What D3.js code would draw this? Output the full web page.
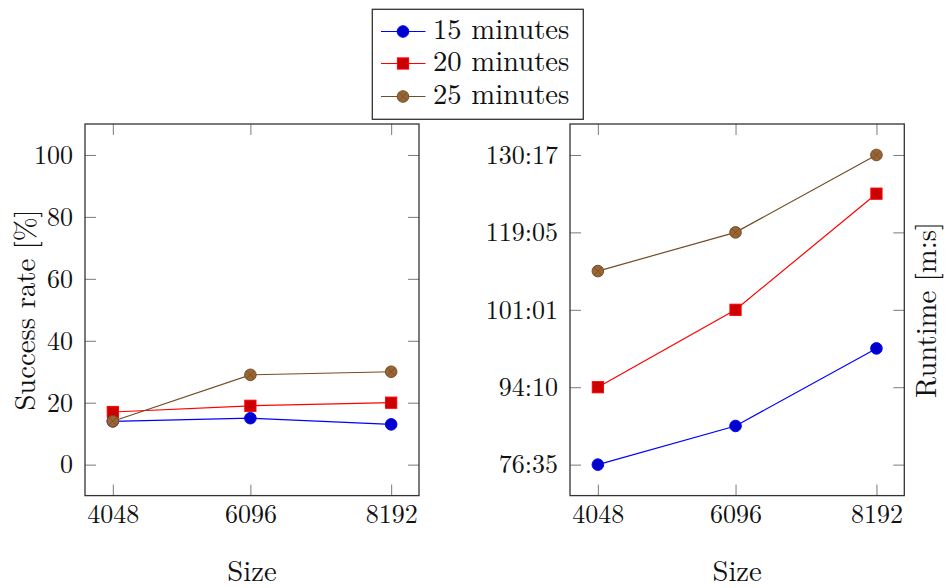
<!DOCTYPE html>
<html>
<head>
<meta charset="utf-8">
<script src="https://cdn.jsdelivr.net/npm/d3@7"></script>
<style>
  html, body { margin: 0; padding: 0; background: #fff; }
  svg { display: block; }
</style>
</head>
<body>
<svg id="chart" width="946" height="588"></svg>
<script>
// Problem sizes on the x axis
const sizes = [4048, 6096, 8192];

// Series names, one per time limit
const seriesNames = ["15 minutes", "20 minutes", "25 minutes"];

// Success rate [%] per size
const success15 = [14, 15, 13];
const success20 = [17, 19, 20];
const success25 = [14, 29, 30];

// Runtime per size, as "m:s"
const runtime15 = ["76:35", "85:22", "97:36"];
const runtime20 = ["94:10", "101:01", "124:41"];
const runtime25 = ["110:03", "119:05", "130:17"];

// Tick labels of the runtime axis
const runtimeTicks = ["76:35", "94:10", "101:01", "119:05", "130:17"];
const successTicks = [0, 20, 40, 60, 80, 100];

const toSec = s => { const [m, sec] = s.split(":").map(Number); return m * 60 + sec; };
const fmtMS = v => { const m = Math.floor(v / 60), s = Math.round(v - m * 60); return m + ":" + String(s).padStart(2, "0"); };

const FONT = '"Latin Modern Roman", "Liberation Serif", serif';

const styles = [
  { line: "#0000ff", fill: "#0000cc", mark: "circle" },
  { line: "#ff0000", fill: "#cc0000", mark: "square" },
  { line: "#734d26", fill: "#996633", mark: "otimes" }
];

const svg = d3.select("#chart");
const plotTop = 124, plotBottom = 495.6;
const tickLen = 11;
const tickFont = 26, labelFont = 28.7;

function label(sel, size) {
  return sel.style("font-family", FONT).style("font-size", size + "px").attr("fill", "#111");
}

function drawMarker(g, x, y, st) {
  if (st.mark === "square") {
    g.append("rect").attr("x", x - 5.6).attr("y", y - 5.6).attr("width", 11.2).attr("height", 11.2)
      .attr("fill", st.fill).attr("stroke", st.line).attr("stroke-width", 1);
  } else {
    g.append("circle").attr("cx", x).attr("cy", y).attr("r", 5.8)
      .attr("fill", st.fill).attr("stroke", st.line).attr("stroke-width", 1);
    if (st.mark === "otimes") {
      const d = 5.8 * Math.SQRT1_2;
      g.append("path").attr("d", `M${x - d},${y - d}L${x + d},${y + d}M${x - d},${y + d}L${x + d},${y - d}`)
        .attr("stroke", st.line).attr("stroke-width", 0.8);
    }
  }
}

function panel(opts) {
  const { left, right, y, yTicks, yFormat, series } = opts;
  const pad = (sizes[2] - sizes[0]) * 0.1;
  const x = d3.scaleLinear().domain([sizes[0] - pad, sizes[2] + pad]).range([left, right]);
  const g = svg.append("g");

  const styleAxis = (ax, labels) => {
    ax.select(".domain").remove();
    ax.selectAll(".tick line").attr("stroke", "#7a7a7a").attr("stroke-width", 1);
    if (labels) label(ax.selectAll(".tick text"), tickFont);
    else ax.selectAll(".tick text").remove();
  };

  // y ticks on both sides, pointing inward
  styleAxis(g.append("g").attr("transform", `translate(${left},0)`)
    .call(d3.axisLeft(y).tickValues(yTicks).tickFormat(yFormat).tickSize(-tickLen).tickPadding(12)), true);
  styleAxis(g.append("g").attr("transform", `translate(${right},0)`)
    .call(d3.axisRight(y).tickValues(yTicks).tickSize(-tickLen)), false);
  // x ticks on top and bottom
  styleAxis(g.append("g").attr("transform", `translate(0,${plotBottom})`)
    .call(d3.axisBottom(x).tickValues(sizes).tickFormat(d3.format("d")).tickSize(-tickLen).tickPadding(9)), true);
  styleAxis(g.append("g").attr("transform", `translate(0,${plotTop})`)
    .call(d3.axisTop(x).tickValues(sizes).tickSize(-tickLen)), false);

  const line = d3.line().x((d, i) => x(sizes[i])).y(d => y(d));
  series.forEach((vals, k) => {
    g.append("path").datum(vals).attr("d", line).attr("fill", "none")
      .attr("stroke", styles[k].line).attr("stroke-width", 1.2);
  });
  series.forEach((vals, k) => {
    vals.forEach((v, i) => drawMarker(g, x(sizes[i]), y(v), styles[k]));
  });

  g.append("rect").attr("x", left).attr("y", plotTop).attr("width", right - left).attr("height", plotBottom - plotTop)
    .attr("fill", "none").attr("stroke", "#333").attr("stroke-width", 1.3);

  label(g.append("text").attr("x", (left + right) / 2).attr("y", 581).attr("text-anchor", "middle"), labelFont)
    .text("Size");
  return g;
}

// Success rate panel
const ySuccess = d3.scaleLinear().domain([-10, 110]).range([plotBottom, plotTop]);
panel({
  left: 85, right: 419, y: ySuccess, yTicks: successTicks, yFormat: d3.format("d"),
  series: [success15, success20, success25]
});
label(svg.append("text").attr("transform", "translate(35,310) rotate(-90)").attr("text-anchor", "middle"), labelFont)
  .text("Success rate [%]");

// Runtime panel: tick labels evenly spaced, piecewise linear between them
const tickSecs = runtimeTicks.map(toSec);
const yIdx = d3.scaleLinear().domain([-0.4, tickSecs.length - 1 + 0.4]).range([plotBottom, plotTop]);
const yRuntime = d3.scaleLinear().domain(tickSecs).range(tickSecs.map((_, i) => yIdx(i)));
panel({
  left: 570, right: 904.3, y: yRuntime, yTicks: tickSecs, yFormat: fmtMS,
  series: [runtime15.map(toSec), runtime20.map(toSec), runtime25.map(toSec)]
});
label(svg.append("text").attr("transform", "translate(936,310) rotate(-90)").attr("text-anchor", "middle"), labelFont)
  .text("Runtime [m:s]");

// Legend
const lg = svg.append("g");
lg.append("rect").attr("x", 372.3).attr("y", 9.3).attr("width", 211).attr("height", 110)
  .attr("fill", "#fff").attr("stroke", "#333").attr("stroke-width", 1.3);
const rowY = [31.5, 63.5, 96.5];
seriesNames.forEach((name, k) => {
  const yy = rowY[k];
  lg.append("line").attr("x1", 381).attr("x2", 425.5).attr("y1", yy).attr("y2", yy)
    .attr("stroke", styles[k].line).attr("stroke-width", 1.2);
  drawMarker(lg, 403, yy, styles[k]);
  label(lg.append("text").attr("x", 433).attr("y", yy + 7), labelFont).text(name);
});
</script>
</body>
</html>
